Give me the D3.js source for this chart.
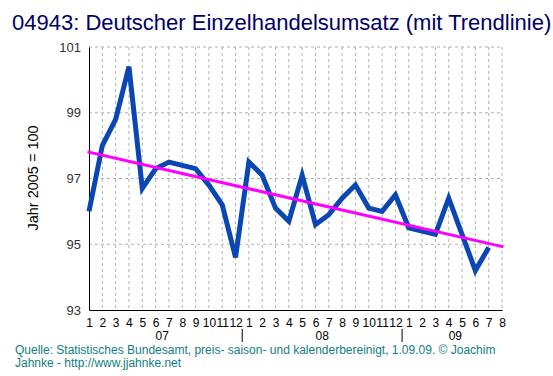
<!DOCTYPE html>
<html>
<head>
<meta charset="utf-8">
<script src="https://cdn.jsdelivr.net/npm/d3@7"></script>
<style>
  body { margin: 0; background: #fff; }
  svg { display: block; font-family: "Liberation Sans", Arial, sans-serif; }
</style>
</head>
<body>
<script>
const months = ["1","2","3","4","5","6","7","8","9","10","11","12",
  "1","2","3","4","5","6","7","8","9","10","11","12",
  "1","2","3","4","5","6","7","8"];
const years = ["07", "08", "09"];
// Einzelhandelsumsatz, 1/07 .. 7/09
const values = [96.0, 98.0, 98.8, 100.4, 96.7, 97.3, 97.5, 97.4, 97.3, 96.8, 96.2, 94.6,
  97.5, 97.1, 96.1, 95.7, 97.1, 95.6, 95.9, 96.4, 96.8, 96.1, 96.0, 96.5,
  95.5, 95.4, 95.3, 96.4, 95.3, 94.2, 94.9];
const trendIdx = [0, 31];
const trendVals = [97.8, 94.93];
const yTicks = [93, 95, 97, 99, 101];

const width = 553, height = 376;
const plotL = 89, plotR = 502, plotT = 47, plotB = 310;

const svg = d3.select("body").append("svg")
  .attr("width", width).attr("height", height);

const x = d3.scaleLinear().domain([0, months.length - 1]).range([plotL, plotR]);
const y = d3.scaleLinear().domain([93, 101]).range([plotB, plotT]);

// title
svg.append("text")
  .attr("x", 12).attr("y", 30)
  .attr("font-size", 22).attr("fill", "#000066")
  .text("04943: Deutscher Einzelhandelsumsatz (mit Trendlinie)");

// grid
const grid = svg.append("g").attr("stroke", "#b0b0b0").attr("stroke-dasharray", "3,3");
grid.selectAll("line.v").data(d3.range(1, months.length)).join("line")
  .attr("x1", d => x(d)).attr("x2", d => x(d))
  .attr("y1", plotT).attr("y2", plotB);
grid.selectAll("line.h").data(yTicks.slice(1)).join("line")
  .attr("x1", plotL).attr("x2", plotR)
  .attr("y1", d => y(d)).attr("y2", d => y(d));

// y axis
const yAxis = svg.append("g")
  .attr("transform", `translate(${plotL},0)`)
  .call(d3.axisLeft(y).tickValues(yTicks).tickSize(0).tickPadding(8));
yAxis.select(".domain").attr("stroke", "#000");
yAxis.selectAll("text").attr("font-size", 13).attr("fill", "#333")
  .attr("font-family", "Liberation Sans, Arial, sans-serif");

// x axis
const xAxis = svg.append("g")
  .attr("transform", `translate(0,${plotB})`)
  .call(d3.axisBottom(x).tickValues(d3.range(months.length))
    .tickFormat(i => months[i]).tickSize(0).tickPadding(8));
xAxis.select(".domain").attr("stroke", "#000");
xAxis.selectAll("text").attr("font-size", 12).attr("fill", "#000")
  .attr("font-family", "Liberation Sans, Arial, sans-serif");

// year labels and separators
const yearStart = [0, 12, 24];
const yearEnd = [11, 23, 31];
svg.selectAll("text.year").data(years).join("text")
  .attr("x", (d, i) => (x(yearStart[i]) + x(yearEnd[i])) / 2)
  .attr("y", 340).attr("text-anchor", "middle")
  .attr("font-size", 12).attr("fill", "#000").text(d => d);
svg.selectAll("line.sep").data([1, 2]).join("line")
  .attr("x1", i => (x(yearStart[i]) + x(yearStart[i] - 1)) / 2)
  .attr("x2", i => (x(yearStart[i]) + x(yearStart[i] - 1)) / 2)
  .attr("y1", 329).attr("y2", 342)
  .attr("stroke", "#000");

// y label
svg.append("text")
  .attr("transform", "translate(38,178) rotate(-90)")
  .attr("text-anchor", "middle").attr("font-size", 14.5).attr("fill", "#000")
  .text("Jahr 2005 = 100");

// data line
svg.append("path")
  .datum(values)
  .attr("fill", "none").attr("stroke", "#0a46b4").attr("stroke-width", 5)
  .attr("stroke-linejoin", "miter")
  .attr("d", d3.line().x((d, i) => x(i)).y(d => y(d)));

// trend line
svg.append("path")
  .datum(trendIdx.map((t, i) => [t, trendVals[i]]))
  .attr("fill", "none").attr("stroke", "#ff00ff").attr("stroke-width", 3)
  .attr("stroke-linecap", "square")
  .attr("d", d3.line().x(d => x(d[0])).y(d => y(d[1])));

// footer
const foot = svg.append("text").attr("font-size", 12).attr("fill", "#118080");
foot.append("tspan").attr("x", 15).attr("y", 354)
  .text("Quelle: Statistisches Bundesamt, preis- saison- und kalenderbereinigt, 1.09.09. © Joachim");
foot.append("tspan").attr("x", 15).attr("y", 367)
  .text("Jahnke - http://www.jjahnke.net");
</script>
</body>
</html>
